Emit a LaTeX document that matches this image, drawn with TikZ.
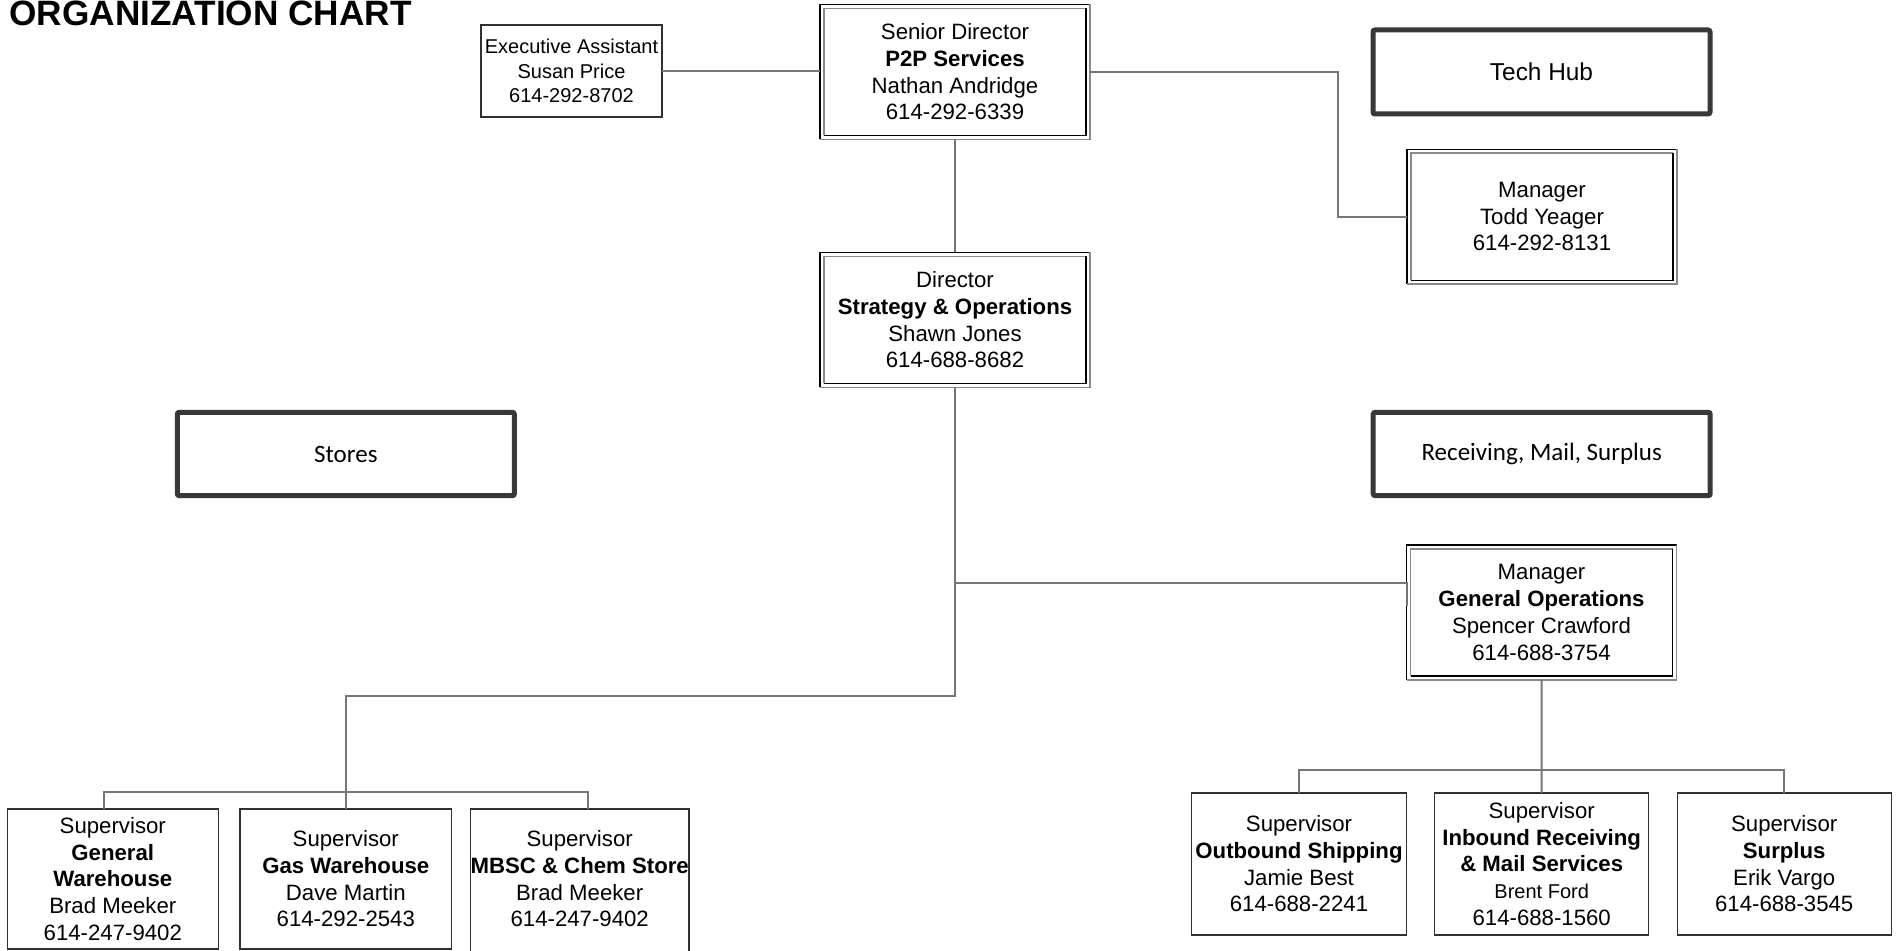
\documentclass[tikz,border=0pt]{standalone}
\usepackage{fontspec}
\setmainfont{Liberation Sans}
\newfontfamily\calibrifont{Carlito}
\definecolor{linegray}{HTML}{767676}
\definecolor{hubgray}{HTML}{383838}
\definecolor{edgegray}{HTML}{8A8A8A}
\definecolor{boxedge}{HTML}{303030}
\newcommand\grooveframe[1]{%
  \draw[black,line width=0.6pt] (#1.south west) |- (#1.north east);
  \draw[edgegray,line width=0.7pt] (#1.north east) |- (#1.south west);
  \draw[edgegray,line width=0.7pt] ([shift={(4,-4)}]#1.south west) |- ([shift={(-4,4)}]#1.north east);
  \draw[black,line width=0.6pt] ([shift={(-4,4)}]#1.north east) |- ([shift={(4,-4)}]#1.south west);
}
\begin{document}
\begin{tikzpicture}[x=0.5pt,y=-0.5pt,
  conn/.style={draw=linegray, line width=1pt},
  dblbox/.style={draw=none, inner sep=0pt, outer sep=0pt, minimum width=135pt, minimum height=67.5pt, align=center, font=\fontsize{11.1}{13.35}\selectfont},
  hubbox/.style={draw=hubgray, line width=2.5pt, rounded corners=1pt, inner sep=0pt, outer sep=0pt, minimum width=168.5pt, minimum height=42pt},
  supbox/.style={draw=boxedge, line width=0.65pt, fill=white, inner sep=0pt, outer sep=0pt, minimum height=71pt, align=center, font=\fontsize{11.1}{13.35}\selectfont},
  eabox/.style={draw=boxedge, line width=0.6pt, inner sep=0pt, outer sep=0pt, minimum width=90.5pt, minimum height=46pt, align=center, font=\fontsize{10}{12.4}\selectfont}
]
\useasboundingbox (0,0) rectangle (1897,951);
\fill[white] (0,0) rectangle (1897,951);

% title
\node[anchor=base west, inner sep=0pt, font=\bfseries\fontsize{17.6}{20}\selectfont] (title) at (9,26) {ORGANIZATION CHART};

% boxes
\node[eabox] (ea) at (571.5,71) {Executive Assistant\\Susan Price\\614-292-8702};
\node[dblbox] (sd) at (955,72) {Senior Director\\\textbf{P2P Services}\\Nathan Andridge\\614-292-6339};
\node[dblbox] (dir) at (955,320) {Director\\\textbf{Strategy \& Operations}\\Shawn Jones\\614-688-8682};
\node[dblbox] (tm) at (1542,216.7) {Manager\\Todd Yeager\\614-292-8131};
\node[dblbox] (go) at (1541.5,612.5) {Manager\\\textbf{General Operations}\\Spencer Crawford\\614-688-3754};

\node[hubbox, font=\fontsize{12.2}{14}\selectfont] (hub) at (1541.5,72) {Tech Hub};
\node[hubbox, minimum height=41.7pt, font=\calibrifont\fontsize{12.5}{15}\selectfont] (stores) at (345.8,454) {Stores};
\node[hubbox, minimum height=41.7pt, font=\calibrifont\fontsize{12.5}{15}\selectfont] (recv) at (1541.7,454) {Receiving, Mail, Surplus};

\node[supbox, minimum width=107.5pt] (out) at (1299,864) {Supervisor\\\textbf{Outbound Shipping}\\Jamie Best\\614-688-2241};
\node[supbox, minimum width=107pt] (inb) at (1541.7,864) {Supervisor\\\textbf{Inbound Receiving}\\\textbf{\& Mail Services}\\{\fontsize{10}{13.35}\selectfont Brent Ford}\\614-688-1560};
\node[supbox, minimum width=107pt] (sur) at (1784.2,864) {Supervisor\\\textbf{Surplus}\\Erik Vargo\\614-688-3545};

\node[supbox, minimum width=105.5pt, minimum height=70pt] (gw) at (112.8,879) {Supervisor\\\textbf{General}\\\textbf{Warehouse}\\Brad Meeker\\614-247-9402};
\node[supbox, minimum width=105.8pt, minimum height=70pt] (gas) at (345.8,879) {Supervisor\\\textbf{Gas Warehouse}\\Dave Martin\\614-292-2543};
\node[supbox, draw=none, fill=none, minimum width=107pt, minimum height=70pt] (mbsc) at (579.7,879) {Supervisor\\\textbf{MBSC \& Chem Store}\\Brad Meeker\\614-247-9402};
\draw[boxedge, line width=0.65pt] ([yshift=-10pt]mbsc.south west) -- (mbsc.north west) -- (mbsc.north east) -- ([yshift=-10pt]mbsc.south east);

% frames of the double boxes
\grooveframe{sd}
\grooveframe{dir}
\grooveframe{tm}
\grooveframe{go}

% junction coordinates
\coordinate (jtop) at (1338,72);
\coordinate (jleft) at (955,696);
\coordinate (jgo) at (955,583);
\coordinate (bl1) at (104,792);
\coordinate (bl2) at (588,792);
\coordinate (br) at (1542,770);

% connectors
\draw[conn] (ea.east) -- (ea.east -| sd.west);
\draw[conn] (sd.east) -- (jtop) |- (tm.west);
\draw[conn] (sd.south) -- (dir.north);
\draw[conn] (dir.south) -- (jleft) -| (gas.north);
\draw[conn] (jgo) -- (jgo -| go.west) -- ([yshift=-11.5pt]jgo -| go.west);
\draw[conn] (bl1 |- gw.north) -- (bl1) -- (bl2) -- (bl2 |- mbsc.north);
\draw[conn] (go.south) -- (inb.north);
\draw[conn] (out.north) |- (br) -| (sur.north);
\end{tikzpicture}
\end{document}
